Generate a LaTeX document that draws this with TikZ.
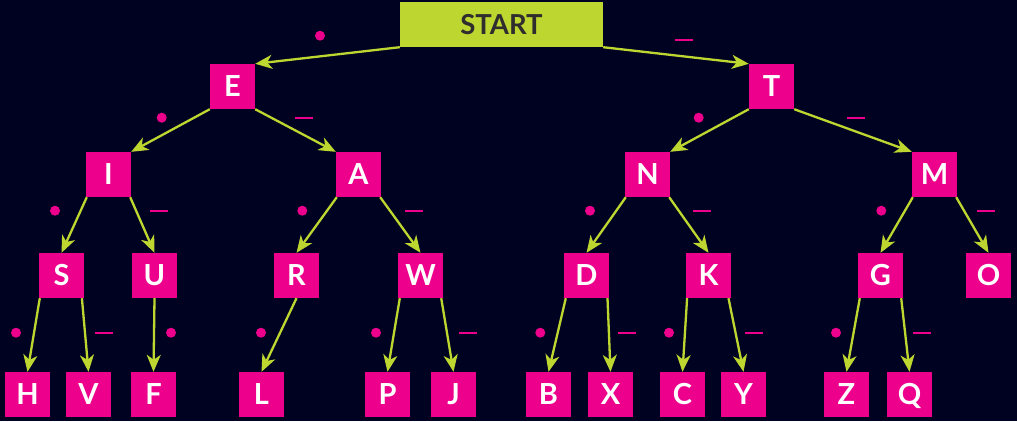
\documentclass[tikz,border=0pt]{standalone}
\usepackage{fontspec}
\setmainfont{Lato}
\usetikzlibrary{arrows.meta}
\definecolor{bg}{HTML}{000222}
\definecolor{mag}{HTML}{EC008C}
\definecolor{lime}{HTML}{BED630}
\definecolor{txt}{HTML}{2E2E2E}
\begin{document}
\begin{tikzpicture}[x=1pt,y=-1pt,
  letter/.style={fill=mag, minimum size=45pt, inner sep=0pt, text=white,
    text height=19.8pt, text depth=0pt,
    font=\fontsize{29}{29}\selectfont\bfseries},
  startbox/.style={fill=lime, minimum width=203pt, minimum height=45pt, inner sep=0pt,
    text=txt, text height=19pt, text depth=0pt,
    font=\fontsize{27.5}{27.5}\selectfont\bfseries},
  edge/.style={draw=lime, line width=2.3pt,
    -{Stealth[length=17pt,width=14pt,inset=5pt]}},
  dotlbl/.style={circle, fill=mag, minimum size=10pt, inner sep=0pt},
  dashlbl/.style={rectangle, fill=mag, minimum width=18pt, minimum height=2pt, inner sep=0pt}]
\fill[bg] (0,0) rectangle (1017,421);
\useasboundingbox (0,0) rectangle (1017,421);
% nodes
\node[startbox] (start) at (501.5,24.5) {START};
\node[letter] (E) at (232.5,86.5) {E};
\node[letter] (T) at (771.5,86.5) {T};
\node[letter] (I) at (108.5,174.5) {I};
\node[letter] (A) at (358.5,174.5) {A};
\node[letter] (N) at (647.5,174.5) {N};
\node[letter] (M) at (934.5,174.5) {M};
\node[letter] (S) at (61.5,275.5) {S};
\node[letter] (U) at (154.5,275.5) {U};
\node[letter] (R) at (296.5,275.5) {R};
\node[letter] (W) at (420.5,275.5) {W};
\node[letter] (D) at (586.5,275.5) {D};
\node[letter] (K) at (708.5,275.5) {K};
\node[letter] (G) at (880.5,275.5) {G};
\node[letter] (O) at (988.5,275.5) {O};
\node[letter] (H) at (27.5,394.5) {H};
\node[letter] (V) at (88.5,394.5) {V};
\node[letter] (F) at (153.5,394.5) {F};
\node[letter] (L) at (261.5,394.5) {L};
\node[letter] (P) at (387.5,394.5) {P};
\node[letter] (J) at (453.5,394.5) {J};
\node[letter] (B) at (548.5,394.5) {B};
\node[letter] (X) at (610.5,394.5) {X};
\node[letter] (C) at (682.5,394.5) {C};
\node[letter] (Y) at (743.5,394.5) {Y};
\node[letter] (Z) at (846.5,394.5) {Z};
\node[letter] (Q) at (909.5,394.5) {Q};
% edges
\draw[edge] (start.south west) -- (E.north east);
\draw[edge] (start.south east) -- (T.north west);
\draw[edge] (E.south west) -- (I.north east);
\draw[edge] (E.south east) -- (A.north west);
\draw[edge] (T.south west) -- (N.north east);
\draw[edge] (T.south east) -- (M.north west);
\draw[edge] ([xshift=1pt]I.south west) -- (S.north);
\draw[edge] ([xshift=-1pt]I.south east) -- (U.north);
\draw[edge] ([xshift=1pt]A.south west) -- (R.north);
\draw[edge] ([xshift=-1pt]A.south east) -- (W.north);
\draw[edge] ([xshift=1pt]N.south west) -- (D.north);
\draw[edge] ([xshift=-1pt]N.south east) -- (K.north);
\draw[edge] ([xshift=1pt]M.south west) -- (G.north);
\draw[edge] ([xshift=-1pt]M.south east) -- (O.north);
\draw[edge] ([xshift=1pt]S.south west) -- (H.north);
\draw[edge] ([xshift=-2.3pt]S.south east) -- (V.north);
\draw[edge] (U.south) -- (F.north);
\draw[edge] (R.south) -- (L.north);
\draw[edge] ([xshift=2pt]W.south west) -- (P.north);
\draw[edge] ([xshift=-2pt]W.south east) -- (J.north);
\draw[edge] ([xshift=2pt]D.south west) -- (B.north);
\draw[edge] ([xshift=-1.7pt]D.south east) -- (X.north);
\draw[edge] ([xshift=1.3pt]K.south west) -- (C.north);
\draw[edge] ([xshift=-2.7pt]K.south east) -- (Y.north);
\draw[edge] ([xshift=2pt]G.south west) -- (Z.north);
\draw[edge] ([xshift=-2pt]G.south east) -- (Q.north);
% dot / dash labels
\node[dotlbl] (d0) at (320,35.7) {};
\node[dashlbl] (h0) at (684,40) {};
\node[dotlbl] (d1) at (161.7,117.7) {};
\node[dashlbl] (h1) at (304,117.7) {};
\node[dotlbl] (d2) at (698.7,117.7) {};
\node[dashlbl] (h2) at (856,117.7) {};
\node[dotlbl] (d3) at (55,210.7) {};
\node[dashlbl] (h3) at (159,210.7) {};
\node[dotlbl] (d4) at (302.3,210.7) {};
\node[dashlbl] (h4) at (414,210.7) {};
\node[dotlbl] (d5) at (590,210.7) {};
\node[dashlbl] (h5) at (702,210.7) {};
\node[dotlbl] (d6) at (881.3,210.7) {};
\node[dashlbl] (h6) at (985.5,210.7) {};
\node[dotlbl] (d7) at (16,332.7) {};
\node[dashlbl] (h7) at (103.5,332.7) {};
\node[dotlbl] (d8) at (171,332.7) {};
\node[dotlbl] (d9) at (261,332.7) {};
\node[dotlbl] (d10) at (376,332.7) {};
\node[dashlbl] (h10) at (468,332.7) {};
\node[dotlbl] (d11) at (540.3,332.7) {};
\node[dashlbl] (h11) at (627,332.7) {};
\node[dotlbl] (d12) at (669,332.7) {};
\node[dashlbl] (h12) at (754,332.7) {};
\node[dotlbl] (d13) at (836,332.7) {};
\node[dashlbl] (h13) at (922,332.7) {};
\end{tikzpicture}
\end{document}
